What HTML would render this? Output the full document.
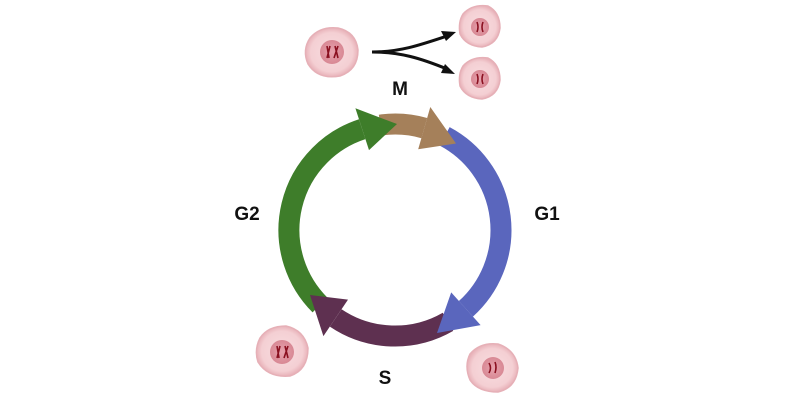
<!DOCTYPE html>
<html><head><meta charset="utf-8"><style>
html,body{margin:0;padding:0;background:#fff;}
svg{display:block;}
text{font-family:"Liberation Sans",sans-serif;font-weight:bold;fill:#111;}
</style></head><body>
<svg width="800" height="400" viewBox="0 0 800 400">
<defs>
<radialGradient id="cg" cx="50%" cy="50%" r="50%">
<stop offset="0" stop-color="#f8dde0"/><stop offset="0.8" stop-color="#f4cfd3"/><stop offset="1" stop-color="#e8b2b9"/>
</radialGradient>
<radialGradient id="ng" cx="50%" cy="50%" r="50%">
<stop offset="0" stop-color="#e7a3ae"/><stop offset="1" stop-color="#d88894"/>
</radialGradient>
</defs>
<!-- ring -->
<g fill="none" stroke-width="21">
<path d="M320,305 A106,106 0 0 1 362.2,129.2" stroke="#3e7d2a"/>
<path d="M380.3,125.1 A106,106 0 0 1 424.3,128.1" stroke="#a5805a"/>
<path d="M444.7,136.4 A106,106 0 0 1 465.9,308.8" stroke="#5a66bd"/>
<path d="M448,321.8 A106,106 0 0 1 335.7,317.9" stroke="#5e3050"/>
</g>
<polygon points="369,150.1 355.4,108.3 397,124" fill="#3e7d2a"/>
<polygon points="418.2,149.3 430.3,107 456,143.5" fill="#a5805a"/>
<polygon points="451.2,292.4 480.6,325.1 437,333" fill="#5a66bd"/>
<polygon points="348,299.6 323.4,336.1 310,295" fill="#5e3050"/>
<!-- labels -->
<text x="400" y="95" font-size="19" text-anchor="middle">M</text>
<text x="547" y="220" font-size="19" text-anchor="middle">G1</text>
<text x="247" y="220" font-size="19" text-anchor="middle">G2</text>
<text x="385" y="384" font-size="19" text-anchor="middle">S</text>
<!-- split arrow -->
<path d="M372,52 C400,52 420,45 447,36" stroke="#111" stroke-width="3" fill="none"/>
<path d="M372,52 C400,52 420,58 447,69" stroke="#111" stroke-width="3" fill="none"/>
<polygon points="456,32 441,31 446,41" fill="#111"/>
<polygon points="455,74 445,64 441,73" fill="#111"/>
<!-- cells -->
<g stroke="#e6b0b7" stroke-width="1.5">
<path d="M310,38 Q320,26 338,28 Q356,32 358,50 Q358,70 340,76 Q318,80 308,64 Q302,50 310,38Z" fill="url(#cg)"/>
<path d="M463,14 Q472,4 488,6 Q500,12 500,28 Q498,44 482,47 Q466,46 460,34 Q458,22 463,14Z" fill="url(#cg)"/>
<path d="M463,66 Q472,56 488,58 Q500,64 500,80 Q498,96 482,99 Q466,98 460,86 Q458,74 463,66Z" fill="url(#cg)"/>
<path d="M260,338 Q268,326 286,326 Q304,330 308,348 Q308,370 290,376 Q268,378 258,362 Q254,350 260,338Z" fill="url(#cg)"/>
<path d="M470,354 Q480,342 498,344 Q516,350 518,368 Q516,388 498,392 Q478,392 470,380 Q464,366 470,354Z" fill="url(#cg)"/>
</g>
<g fill="url(#ng)">
<circle cx="332" cy="52" r="12"/>
<circle cx="480" cy="27" r="9"/>
<circle cx="480" cy="79" r="9"/>
<circle cx="282" cy="352" r="12"/>
<circle cx="493" cy="368" r="11"/>
</g>
<g stroke="#8a1020" stroke-width="1.6" fill="none">
<path d="M327,46 l2,12 M330,46 l-3,12 M335,46 l3,12 M338,46 l-4,12"/>
<path d="M477,22 q2,5 0,10 M483,22 q-2,5 0,10"/>
<path d="M477,74 q2,5 0,10 M483,74 q-2,5 0,10"/>
<path d="M277,346 l2,12 M280,346 l-3,12 M285,346 l3,12 M288,346 l-4,12"/>
<path d="M489,363 q3,5 0,10 M495,362 q2,5 0,11"/>
</g>
</svg>
</body></html>
